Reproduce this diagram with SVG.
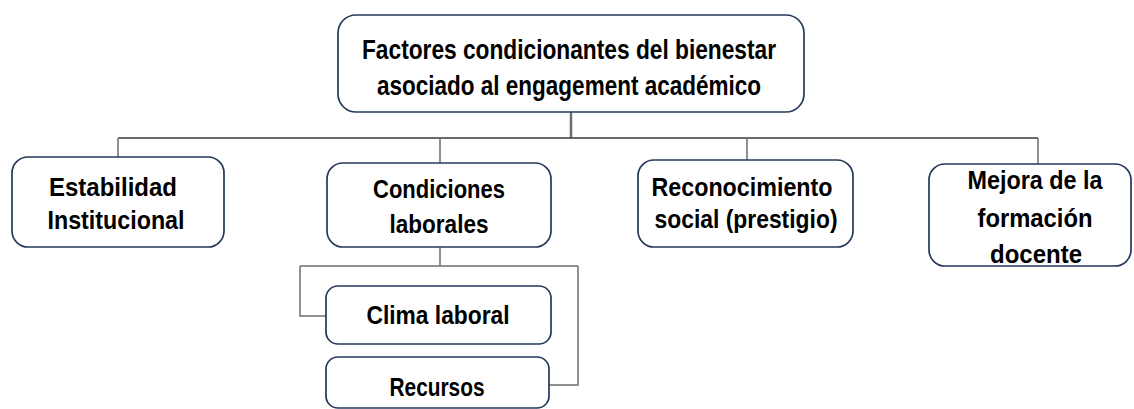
<svg xmlns="http://www.w3.org/2000/svg" width="1134" height="409" viewBox="0 0 1134 409">
<style>
.box{fill:#ffffff;stroke:#26395a;stroke-width:1.7}
.t{font-family:"Liberation Sans",Arial,sans-serif;font-weight:bold;font-size:26px;fill:#000;text-anchor:middle}
.tt{font-size:28px}
.c{fill:none;stroke:#6e6e6e;stroke-width:1.5}
</style>
<rect width="1134" height="409" fill="#ffffff"/>
<g id="connectors">
<path class="c" d="M571 112 V138" style="stroke-width:2.5"/>
<path class="c" d="M118 138 H1038" style="stroke:#3a3a3a"/>
<path class="c" d="M118 138 V157 M440 138 V163 M747 138 V160 M1038 138 V164"/>
<path class="c" d="M440 247 V266 M300 266 H578 M300 266 V316 H326 M578 266 V385 H549"/>
</g>
<g id="n-root">
<rect class="box" x="338" y="15" width="466" height="97" rx="18"/>
<text class="t tt" x="569" y="59" textLength="414" lengthAdjust="spacingAndGlyphs">Factores condicionantes del bienestar</text>
<text class="t tt" x="569" y="95" textLength="384" lengthAdjust="spacingAndGlyphs">asociado al engagement académico</text>
</g>
<g id="n-estabilidad">
<rect class="box" x="12" y="157" width="212" height="90" rx="16"/>
<text class="t" x="113" y="196" textLength="128" lengthAdjust="spacingAndGlyphs">Estabilidad</text>
<text class="t" x="116" y="229" textLength="137" lengthAdjust="spacingAndGlyphs">Institucional</text>
</g>
<g id="n-condiciones">
<rect class="box" x="327" y="163" width="224" height="84" rx="16"/>
<text class="t" x="439" y="198" textLength="132" lengthAdjust="spacingAndGlyphs">Condiciones</text>
<text class="t" x="439" y="233" textLength="99" lengthAdjust="spacingAndGlyphs">laborales</text>
</g>
<g id="n-reconocimiento">
<rect class="box" x="638" y="160" width="215" height="87" rx="16"/>
<text class="t" x="742" y="196" textLength="181" lengthAdjust="spacingAndGlyphs">Reconocimiento</text>
<text class="t" x="746" y="228" textLength="183" lengthAdjust="spacingAndGlyphs">social (prestigio)</text>
</g>
<g id="n-mejora">
<rect class="box" x="929" y="164" width="202" height="102" rx="16"/>
<text class="t" x="1035" y="189" textLength="135" lengthAdjust="spacingAndGlyphs">Mejora de la</text>
<text class="t" x="1035" y="227" textLength="115" lengthAdjust="spacingAndGlyphs">formación</text>
<text class="t" x="1036" y="263" textLength="92" lengthAdjust="spacingAndGlyphs">docente</text>
</g>
<g id="n-clima">
<rect class="box" x="326" y="286" width="225" height="58" rx="12"/>
<text class="t" x="438" y="324" textLength="143" lengthAdjust="spacingAndGlyphs">Clima laboral</text>
</g>
<g id="n-recursos">
<rect class="box" x="326" y="357" width="223" height="51" rx="12"/>
<text class="t" x="437" y="396" textLength="95" lengthAdjust="spacingAndGlyphs">Recursos</text>
</g>
</svg>
